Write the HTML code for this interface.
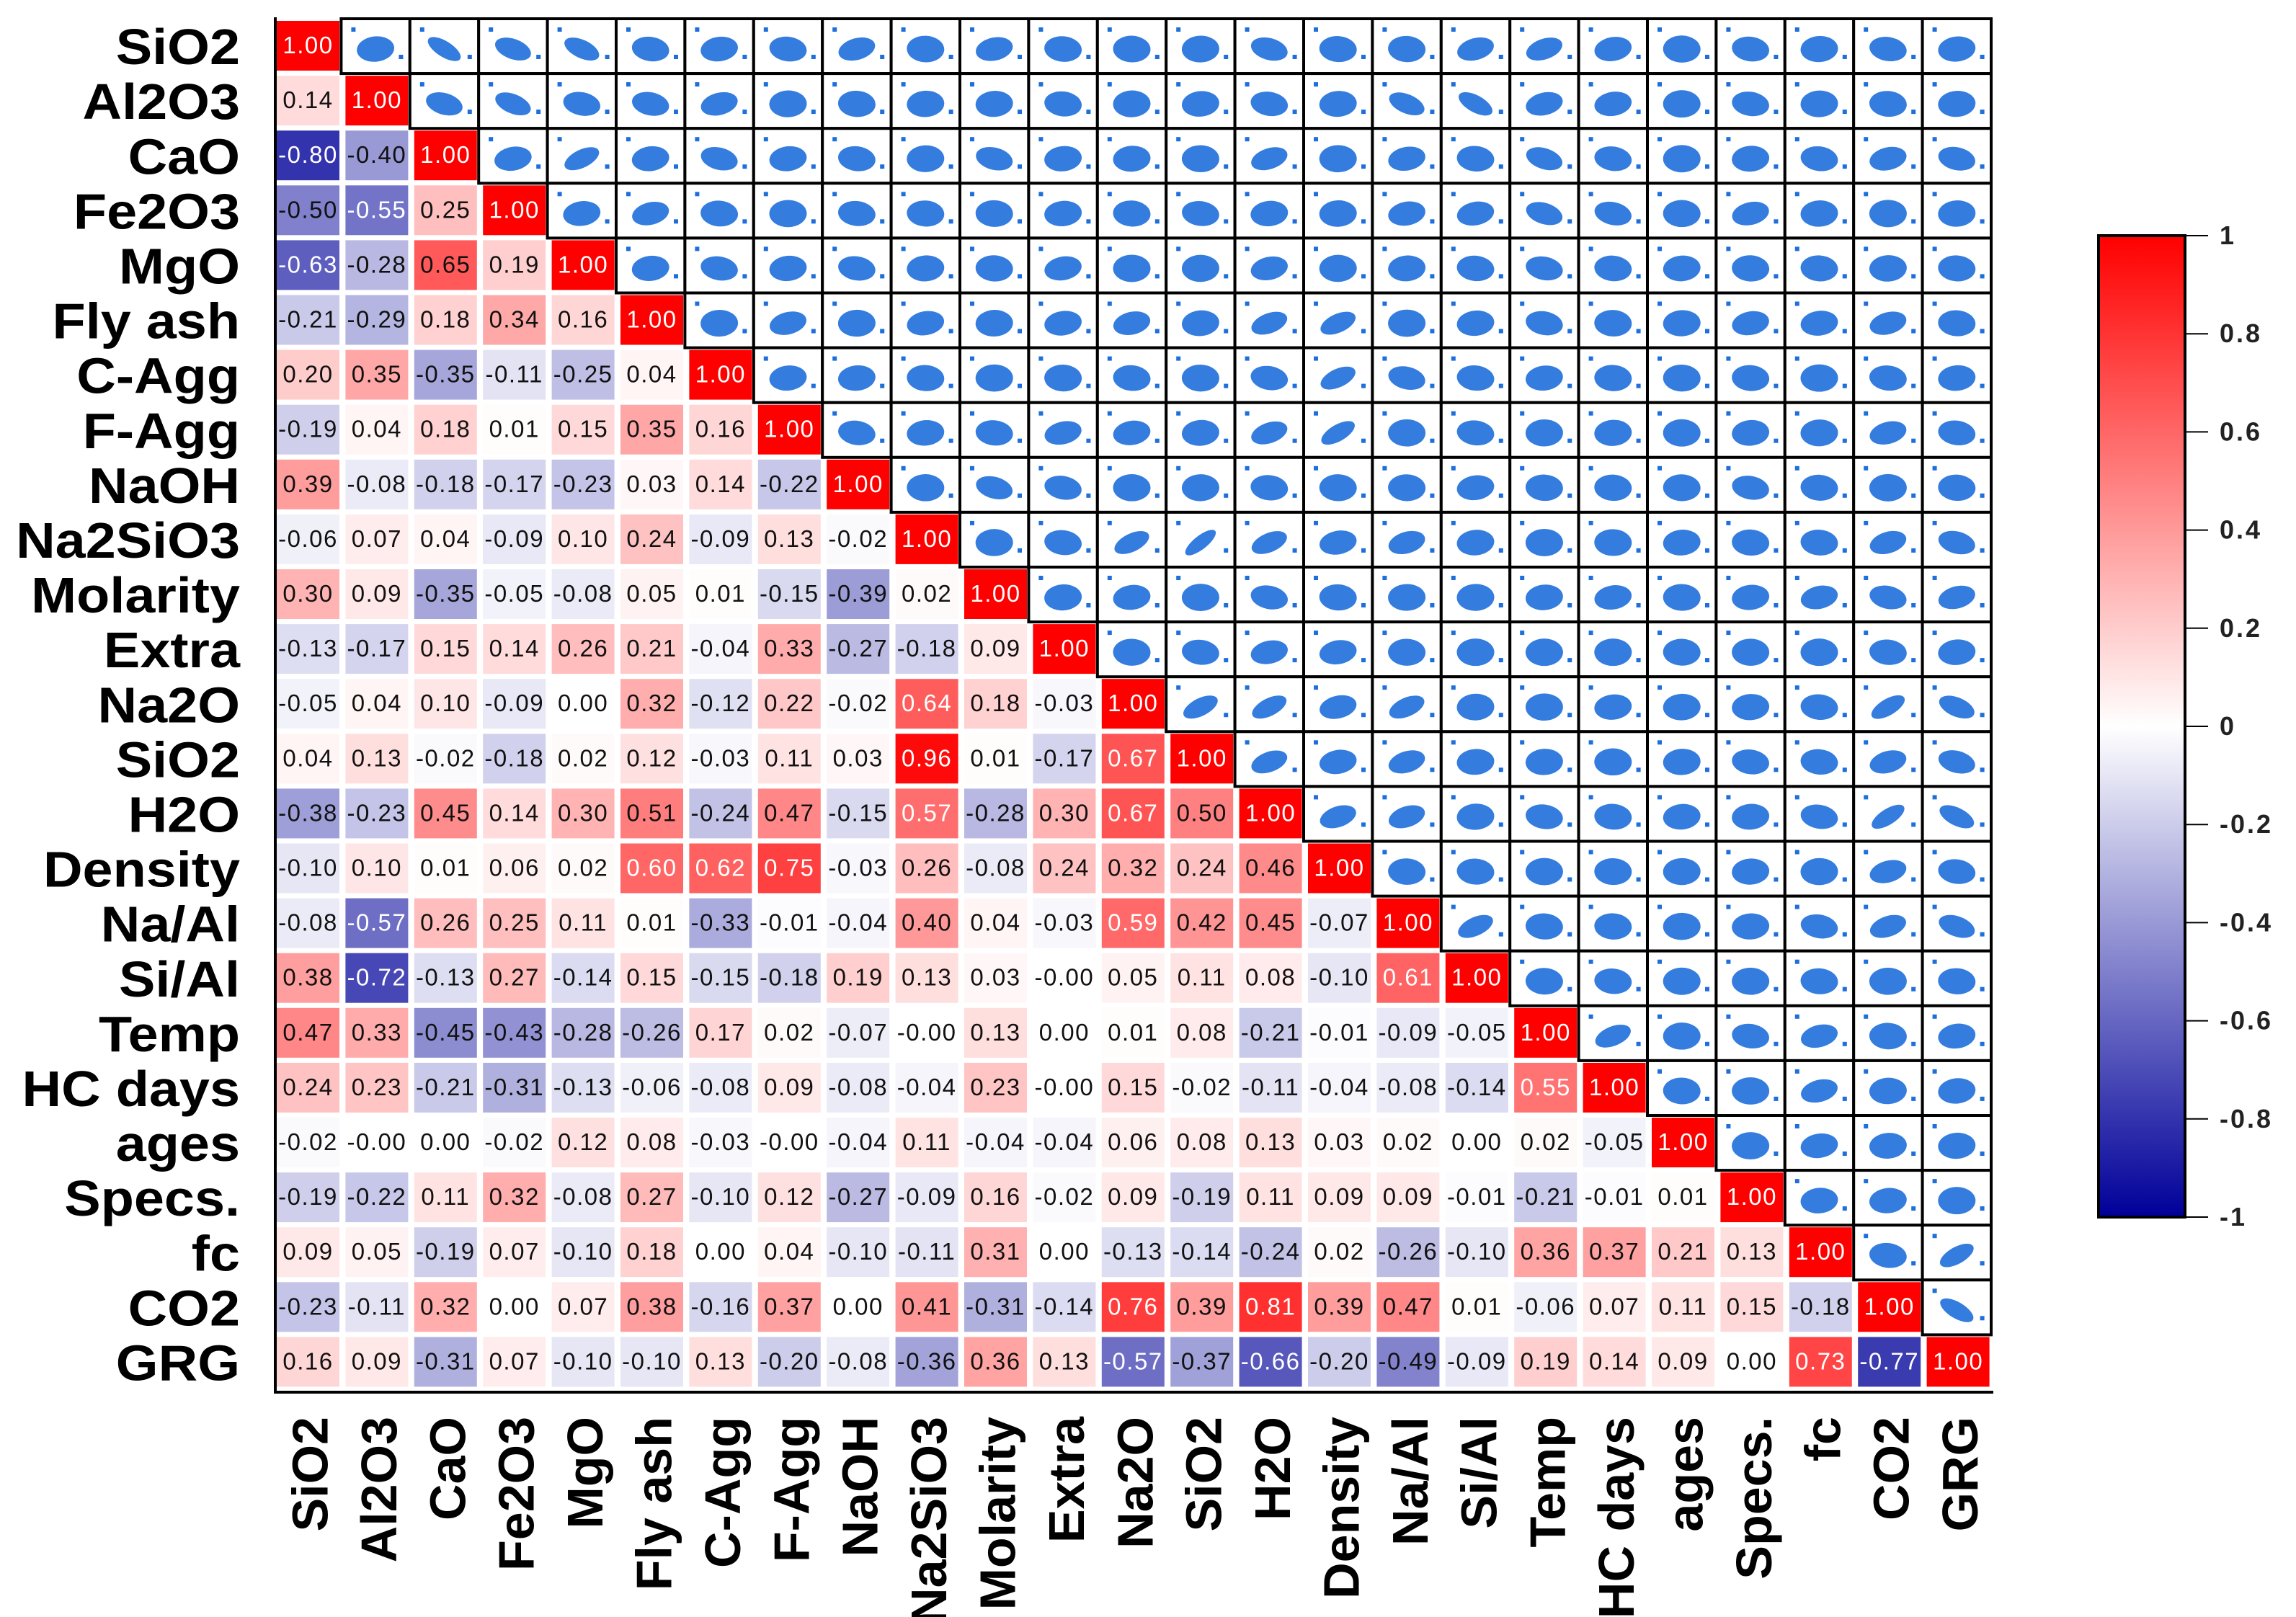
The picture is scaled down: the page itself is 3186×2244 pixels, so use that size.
<!DOCTYPE html>
<html><head><meta charset="utf-8"><style>
html,body{margin:0;padding:0;background:#fff;}
svg{display:block;font-family:"Liberation Sans",Arial,sans-serif;}
</style></head><body>
<svg id="chart" width="3186" height="2244" viewBox="0 0 3186 2244" xmlns="http://www.w3.org/2000/svg">
<defs>
<linearGradient id="cbgrad" x1="0" y1="0" x2="0" y2="1">
<stop offset="0" stop-color="#ff0000"/><stop offset="0.5" stop-color="#ffffff"/><stop offset="1" stop-color="#000099"/>
</linearGradient>
</defs>
<g id="cells"></g><g id="boxes"></g><g id="labels"></g>
<g id="colorbar"></g>
</svg>
<script>
const variables = ["SiO2","Al2O3","CaO","Fe2O3","MgO","Fly ash","C-Agg","F-Agg","NaOH","Na2SiO3","Molarity","Extra","Na2O","SiO2","H2O","Density","Na/Al","Si/Al","Temp","HC days","ages","Specs.","fc","CO2","GRG"];
const corrRows = [
["1.00"],
["0.14","1.00"],
["-0.80","-0.40","1.00"],
["-0.50","-0.55","0.25","1.00"],
["-0.63","-0.28","0.65","0.19","1.00"],
["-0.21","-0.29","0.18","0.34","0.16","1.00"],
["0.20","0.35","-0.35","-0.11","-0.25","0.04","1.00"],
["-0.19","0.04","0.18","0.01","0.15","0.35","0.16","1.00"],
["0.39","-0.08","-0.18","-0.17","-0.23","0.03","0.14","-0.22","1.00"],
["-0.06","0.07","0.04","-0.09","0.10","0.24","-0.09","0.13","-0.02","1.00"],
["0.30","0.09","-0.35","-0.05","-0.08","0.05","0.01","-0.15","-0.39","0.02","1.00"],
["-0.13","-0.17","0.15","0.14","0.26","0.21","-0.04","0.33","-0.27","-0.18","0.09","1.00"],
["-0.05","0.04","0.10","-0.09","0.00","0.32","-0.12","0.22","-0.02","0.64","0.18","-0.03","1.00"],
["0.04","0.13","-0.02","-0.18","0.02","0.12","-0.03","0.11","0.03","0.96","0.01","-0.17","0.67","1.00"],
["-0.38","-0.23","0.45","0.14","0.30","0.51","-0.24","0.47","-0.15","0.57","-0.28","0.30","0.67","0.50","1.00"],
["-0.10","0.10","0.01","0.06","0.02","0.60","0.62","0.75","-0.03","0.26","-0.08","0.24","0.32","0.24","0.46","1.00"],
["-0.08","-0.57","0.26","0.25","0.11","0.01","-0.33","-0.01","-0.04","0.40","0.04","-0.03","0.59","0.42","0.45","-0.07","1.00"],
["0.38","-0.72","-0.13","0.27","-0.14","0.15","-0.15","-0.18","0.19","0.13","0.03","-0.00","0.05","0.11","0.08","-0.10","0.61","1.00"],
["0.47","0.33","-0.45","-0.43","-0.28","-0.26","0.17","0.02","-0.07","-0.00","0.13","0.00","0.01","0.08","-0.21","-0.01","-0.09","-0.05","1.00"],
["0.24","0.23","-0.21","-0.31","-0.13","-0.06","-0.08","0.09","-0.08","-0.04","0.23","-0.00","0.15","-0.02","-0.11","-0.04","-0.08","-0.14","0.55","1.00"],
["-0.02","-0.00","0.00","-0.02","0.12","0.08","-0.03","-0.00","-0.04","0.11","-0.04","-0.04","0.06","0.08","0.13","0.03","0.02","0.00","0.02","-0.05","1.00"],
["-0.19","-0.22","0.11","0.32","-0.08","0.27","-0.10","0.12","-0.27","-0.09","0.16","-0.02","0.09","-0.19","0.11","0.09","0.09","-0.01","-0.21","-0.01","0.01","1.00"],
["0.09","0.05","-0.19","0.07","-0.10","0.18","0.00","0.04","-0.10","-0.11","0.31","0.00","-0.13","-0.14","-0.24","0.02","-0.26","-0.10","0.36","0.37","0.21","0.13","1.00"],
["-0.23","-0.11","0.32","0.00","0.07","0.38","-0.16","0.37","0.00","0.41","-0.31","-0.14","0.76","0.39","0.81","0.39","0.47","0.01","-0.06","0.07","0.11","0.15","-0.18","1.00"],
["0.16","0.09","-0.31","0.07","-0.10","-0.10","0.13","-0.20","-0.08","-0.36","0.36","0.13","-0.57","-0.37","-0.66","-0.20","-0.49","-0.09","0.19","0.14","0.09","0.00","0.73","-0.77","1.00"]
];
const colorbarTicks = [1,0.8,0.6,0.4,0.2,0,-0.2,-0.4,-0.6,-0.8,-1];

const NS="http://www.w3.org/2000/svg";
const X0=378, PX=95.4, Y0=26, PY=76.1;
const colX = j => X0 + j*PX;
const rowY = i => Y0 + i*PY;
function color(v){
  v=Math.max(-1,Math.min(1,v));
  if(v>=0){const g=Math.round(255*(1-v));return `rgb(255,${g},${g})`;}
  const t=-v;const c=Math.round(255*(1-t));return `rgb(${c},${c},${Math.round(255*(1-t)+153*t)})`;
}
function mk(tag,attrs,parent){const e=document.createElementNS(NS,tag);for(const k in attrs)e.setAttribute(k,attrs[k]);parent.appendChild(e);return e;}
const gC=document.getElementById('cells'), gB=document.getElementById('boxes'), gL=document.getElementById('labels'), gCB=document.getElementById('colorbar');
const n=variables.length;

corrRows.forEach((row,i)=>{
  row.forEach((s,j)=>{
    const v=parseFloat(s);
    const r=mk('rect',{x:colX(j)+6,y:rowY(i)+3,width:87,height:69,fill:color(v)},gC);
    
    
    const t=mk('text',{x:colX(j)+49.5,y:rowY(i)+48,'text-anchor':'middle','font-size':33,'letter-spacing':'1.5',fill:(Math.abs(v)>=0.55&&!(v>0.645&&v<0.655))?'#fff':'#111'},gC);
    t.textContent=s;
    
    
  });
});

for(let i=0;i<n;i++){for(let j=i+1;j<n;j++){
  const v=parseFloat(corrRows[j][i]);
  const bx=colX(j), by=rowY(i);
  const g=mk('g',{},gB);
  
  
  mk('rect',{x:bx,y:by,width:PX,height:PY,fill:'#fff',stroke:'#000','stroke-width':4},g);
  const cx=bx+PX/2, cy=by+PY/2+4;
  const ang=-v*40, ry=9+(1-Math.abs(v))*10;
  const e=mk('ellipse',{cx:cx,cy:cy,rx:26,ry:ry,fill:'#1e6fdc','fill-opacity':0.9,transform:`rotate(${ang} ${cx} ${cy})`},g);
  
  
  mk('rect',{x:bx+80,y:by+50,width:6,height:6,fill:'#1e6fdc'},g);
  mk('rect',{x:bx+14,y:by+12,width:6,height:6,fill:'#1e6fdc'},g);
}}

const ax1=mk('line',{x1:382,y1:24,x2:382,y2:1934,stroke:'#000','stroke-width':4},gL);


const ax2=mk('line',{x1:380,y1:1932,x2:2766,y2:1932,stroke:'#000','stroke-width':4},gL);



variables.forEach((name,i)=>{
  const t=mk('text',{transform:`translate(333,${rowY(i)+PY/2+25}) scale(1.08,1)`,'text-anchor':'end','font-size':70,'font-weight':'bold',fill:'#000'},gL);
  t.textContent=name;
  
  
  const cx=colX(i)+49.5+27;
  const c=mk('text',{transform:`translate(${cx},1966) rotate(-90)`,'text-anchor':'end','font-size':70,'font-weight':'bold',fill:'#000'},gL);
  c.textContent=name;
  
  
});

const CB_T=327, CB_B=1689, CB_L=2912, CB_R=3032;
const cbScale=v=>CB_T+(1-v)/2*(CB_B-CB_T);
const bar=mk('rect',{x:CB_L,y:CB_T,width:CB_R-CB_L,height:CB_B-CB_T,fill:'url(#cbgrad)',stroke:'#000','stroke-width':4},gCB);


colorbarTicks.forEach(v=>{
  const y=cbScale(v);
  const l=mk('line',{x1:CB_R,y1:y,x2:CB_R+32,y2:y,stroke:'#000','stroke-width':2},gCB);
  
  
  const t=mk('text',{x:3080,y:y+12,'font-size':36,'font-weight':'bold','letter-spacing':'3',fill:'#222'},gCB);
  t.textContent=(v<0?'-':'')+String(Math.abs(v));
  
  
});
</script>
</body></html>
